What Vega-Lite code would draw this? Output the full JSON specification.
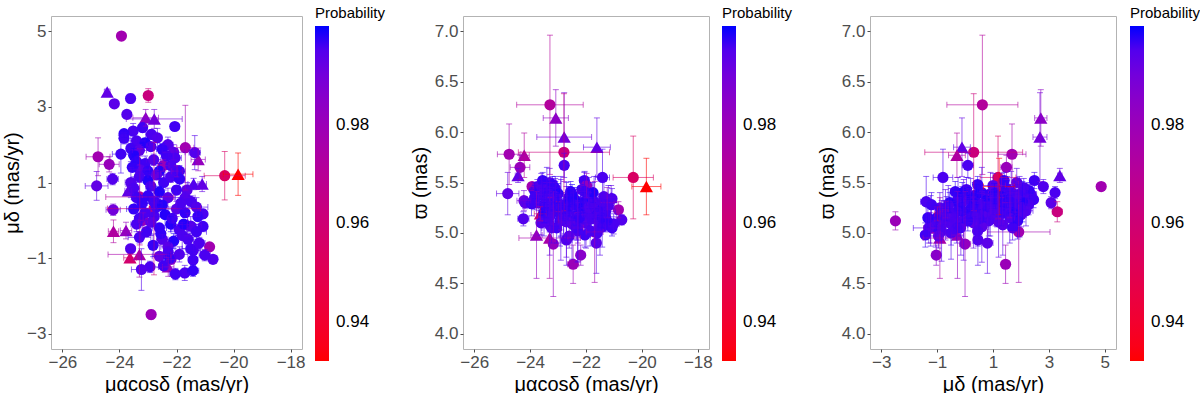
{
  "$schema": "https://vega.github.io/schema/vega-lite/v6.json",
  "background": "white",
  "padding": {"left": 2, "top": 5, "right": 0, "bottom": 0},
  "spacing": 22,
  "config": {
    "font": "Liberation Sans",
    "view": {"stroke": "#b3b3b3", "strokeWidth": 1},
    "axis": {"grid": false, "domain": false, "tickColor": "#4d4d4d", "tickSize": 3, "labelColor": "#4d4d4d", "labelFontSize": 17, "titleFontSize": 20, "titleFontWeight": "normal", "titleColor": "black", "labelPadding": 2, "titlePadding": 4},
    "legend": {"disable": true, "titleFontSize": 15, "titleFontWeight": "normal", "titleColor": "black", "labelFontSize": 17, "labelColor": "black"}
  },
  "data": {"values": [
    {"pmra": -23.93, "pmdec": 4.87, "plx": 5.46, "e_pmra": 0.06, "e_pmdec": 0.06, "e_plx": 0.04, "prob": 0.978, "type": "circle"},
    {"pmra": -22.89, "pmdec": -2.49, "plx": 5.12, "e_pmra": 0.08, "e_pmdec": 0.12, "e_plx": 0.09, "prob": 0.980, "type": "circle"},
    {"pmra": -19.84, "pmdec": 1.22, "plx": 5.46, "e_pmra": 0.52, "e_pmdec": 0.56, "e_plx": 0.28, "prob": 0.932, "type": "triangle"},
    {"pmra": -20.31, "pmdec": 1.18, "plx": 5.55, "e_pmra": 0.72, "e_pmdec": 0.64, "e_plx": 0.41, "prob": 0.955, "type": "circle"},
    {"pmra": -22.99, "pmdec": 3.30, "plx": 5.21, "e_pmra": 0.12, "e_pmdec": 0.18, "e_plx": 0.10, "prob": 0.963, "type": "circle"},
    {"pmra": -24.43, "pmdec": 3.39, "plx": 5.57, "e_pmra": 0.10, "e_pmdec": 0.08, "e_plx": 0.07, "prob": 0.993, "type": "triangle"},
    {"pmra": -23.08, "pmdec": 2.71, "plx": 6.14, "e_pmra": 0.45, "e_pmdec": 0.22, "e_plx": 0.28, "prob": 0.984, "type": "triangle"},
    {"pmra": -22.78, "pmdec": 2.68, "plx": 5.95, "e_pmra": 0.98, "e_pmdec": 0.25, "e_plx": 0.44, "prob": 0.990, "type": "triangle"},
    {"pmra": -21.61, "pmdec": -0.11, "plx": 5.85, "e_pmra": 0.48, "e_pmdec": 0.30, "e_plx": 0.29, "prob": 0.993, "type": "triangle"},
    {"pmra": -24.21, "pmdec": -0.29, "plx": 5.77, "e_pmra": 0.18, "e_pmdec": 0.30, "e_plx": 0.22, "prob": 0.973, "type": "triangle"},
    {"pmra": -23.29, "pmdec": 0.62, "plx": 6.27, "e_pmra": 1.19, "e_pmdec": 1.27, "e_plx": 0.69, "prob": 0.972, "type": "circle"},
    {"pmra": -22.79, "pmdec": 0.31, "plx": 5.80, "e_pmra": 1.63, "e_pmdec": 1.75, "e_plx": 0.58, "prob": 0.962, "type": "circle"},
    {"pmra": -24.75, "pmdec": 1.68, "plx": 5.78, "e_pmra": 0.42, "e_pmdec": 0.50, "e_plx": 0.30, "prob": 0.978, "type": "circle"},
    {"pmra": -24.36, "pmdec": 1.48, "plx": 5.65, "e_pmra": 0.35, "e_pmdec": 0.20, "e_plx": 0.12, "prob": 0.981, "type": "circle"},
    {"pmra": -24.80, "pmdec": 0.91, "plx": 5.39, "e_pmra": 0.40, "e_pmdec": 0.38, "e_plx": 0.21, "prob": 0.993, "type": "circle"},
    {"pmra": -24.24, "pmdec": 1.09, "plx": 5.14, "e_pmra": 0.20, "e_pmdec": 0.15, "e_plx": 0.07, "prob": 0.995, "type": "circle"},
    {"pmra": -24.22, "pmdec": 0.28, "plx": 5.32, "e_pmra": 0.25, "e_pmdec": 0.15, "e_plx": 0.10, "prob": 0.990, "type": "circle"},
    {"pmra": -23.63, "pmdec": -0.99, "plx": 5.19, "e_pmra": 0.22, "e_pmdec": 0.10, "e_plx": 0.07, "prob": 0.958, "type": "triangle"},
    {"pmra": -23.77, "pmdec": -0.27, "plx": 4.98, "e_pmra": 0.20, "e_pmdec": 0.22, "e_plx": 0.43, "prob": 0.982, "type": "triangle"},
    {"pmra": -23.30, "pmdec": -0.90, "plx": 4.95, "e_pmra": 1.10, "e_pmdec": 0.60, "e_plx": 0.40, "prob": 0.976, "type": "triangle"},
    {"pmra": -23.69, "pmdec": 0.78, "plx": 5.30, "e_pmra": 0.12, "e_pmdec": 0.12, "e_plx": 0.08, "prob": 0.993, "type": "triangle"},
    {"pmra": -21.24, "pmdec": 1.61, "plx": 5.30, "e_pmra": 0.25, "e_pmdec": 0.30, "e_plx": 0.15, "prob": 0.982, "type": "triangle"},
    {"pmra": -21.40, "pmdec": 0.96, "plx": 5.25, "e_pmra": 0.20, "e_pmdec": 0.15, "e_plx": 0.10, "prob": 0.995, "type": "triangle"},
    {"pmra": -21.10, "pmdec": 0.96, "plx": 5.35, "e_pmra": 0.15, "e_pmdec": 0.20, "e_plx": 0.12, "prob": 0.993, "type": "triangle"},
    {"pmra": -22.29, "pmdec": -1.23, "plx": 5.05, "e_pmra": 0.20, "e_pmdec": 0.25, "e_plx": 0.15, "prob": 0.983, "type": "triangle"},
    {"pmra": -22.46, "pmdec": 1.45, "plx": 4.69, "e_pmra": 0.20, "e_pmdec": 0.15, "e_plx": 0.19, "prob": 0.980, "type": "circle"},
    {"pmra": -22.19, "pmdec": -1.03, "plx": 4.78, "e_pmra": 0.15, "e_pmdec": 0.12, "e_plx": 0.10, "prob": 0.985, "type": "circle"},
    {"pmra": -23.17, "pmdec": 0.00, "plx": 4.89, "e_pmra": 0.15, "e_pmdec": 0.20, "e_plx": 0.52, "prob": 0.982, "type": "circle"},
    {"pmra": -21.69, "pmdec": 1.92, "plx": 5.01, "e_pmra": 0.30, "e_pmdec": 1.12, "e_plx": 0.50, "prob": 0.978, "type": "circle"},
    {"pmra": -20.84, "pmdec": -0.70, "plx": 5.23, "e_pmra": 0.10, "e_pmdec": 0.10, "e_plx": 0.08, "prob": 0.978, "type": "circle"},
    {"pmra": -20.72, "pmdec": -1.03, "plx": 5.13, "e_pmra": 0.08, "e_pmdec": 0.08, "e_plx": 0.05, "prob": 0.995, "type": "circle"},
    {"pmra": -21.07, "pmdec": 0.17, "plx": 5.34, "e_pmra": 0.10, "e_pmdec": 0.12, "e_plx": 0.10, "prob": 0.996, "type": "circle"},
    {"pmra": -21.41, "pmdec": -0.79, "plx": 5.55, "e_pmra": 0.25, "e_pmdec": 0.35, "e_plx": 0.28, "prob": 0.996, "type": "circle"},
    {"pmra": -24.18, "pmdec": 3.08, "plx": 5.30, "e_pmra": 0.12, "e_pmdec": 0.10, "e_plx": 0.06, "prob": 0.994, "type": "circle"},
    {"pmra": -23.61, "pmdec": 3.22, "plx": 5.40, "e_pmra": 0.08, "e_pmdec": 0.12, "e_plx": 0.06, "prob": 0.996, "type": "circle"},
    {"pmra": -23.74, "pmdec": 2.80, "plx": 5.46, "e_pmra": 0.10, "e_pmdec": 0.10, "e_plx": 0.07, "prob": 0.995, "type": "circle"},
    {"pmra": -22.06, "pmdec": 2.48, "plx": 5.52, "e_pmra": 0.15, "e_pmdec": 0.10, "e_plx": 0.08, "prob": 0.997, "type": "circle"},
    {"pmra": -23.52, "pmdec": 2.36, "plx": 5.38, "e_pmra": 0.12, "e_pmdec": 0.20, "e_plx": 0.10, "prob": 0.996, "type": "circle"},
    {"pmra": -23.19, "pmdec": 2.45, "plx": 5.33, "e_pmra": 0.15, "e_pmdec": 0.12, "e_plx": 0.08, "prob": 0.997, "type": "circle"},
    {"pmra": -21.07, "pmdec": -0.16, "plx": 5.05, "e_pmra": 0.10, "e_pmdec": 0.10, "e_plx": 0.08, "prob": 0.997, "type": "circle"},
    {"pmra": -21.01, "pmdec": -0.92, "plx": 5.09, "e_pmra": 0.20, "e_pmdec": 0.15, "e_plx": 0.10, "prob": 0.996, "type": "circle"},
    {"pmra": -22.78, "pmdec": 0.10, "plx": 5.67, "e_pmra": 0.15, "e_pmdec": 0.20, "e_plx": 0.12, "prob": 0.996, "type": "circle"},
    {"pmra": -22.70, "pmdec": 0.46, "plx": 4.93, "e_pmra": 0.20, "e_pmdec": 0.15, "e_plx": 0.25, "prob": 0.995, "type": "circle"},
    {"pmra": -21.63, "pmdec": 0.80, "plx": 4.90, "e_pmra": 0.15, "e_pmdec": 0.20, "e_plx": 0.30, "prob": 0.994, "type": "circle"},
    {"pmra": -21.98, "pmdec": 1.30, "plx": 5.47, "e_pmra": 0.20, "e_pmdec": 0.15, "e_plx": 0.12, "prob": 0.982, "type": "circle"},
    {"pmra": -23.84, "pmdec": 2.29, "plx": 5.42, "e_pmra": 0.12, "e_pmdec": 0.10, "e_plx": 0.08, "prob": 0.998, "type": "circle"},
    {"pmra": -23.84, "pmdec": 2.17, "plx": 5.35, "e_pmra": 0.10, "e_pmdec": 0.15, "e_plx": 0.12, "prob": 0.997, "type": "circle"},
    {"pmra": -22.88, "pmdec": 2.27, "plx": 5.28, "e_pmra": 0.20, "e_pmdec": 0.12, "e_plx": 0.10, "prob": 0.996, "type": "circle"},
    {"pmra": -22.67, "pmdec": 2.18, "plx": 5.22, "e_pmra": 0.15, "e_pmdec": 0.25, "e_plx": 0.15, "prob": 0.995, "type": "circle"},
    {"pmra": -23.40, "pmdec": 2.10, "plx": 5.45, "e_pmra": 0.30, "e_pmdec": 0.10, "e_plx": 0.09, "prob": 0.996, "type": "circle"},
    {"pmra": -23.10, "pmdec": 2.05, "plx": 5.31, "e_pmra": 0.12, "e_pmdec": 0.12, "e_plx": 0.20, "prob": 0.999, "type": "circle"},
    {"pmra": -22.30, "pmdec": 2.00, "plx": 5.18, "e_pmra": 0.18, "e_pmdec": 0.20, "e_plx": 0.12, "prob": 0.995, "type": "circle"},
    {"pmra": -23.60, "pmdec": 1.90, "plx": 5.38, "e_pmra": 0.10, "e_pmdec": 0.35, "e_plx": 0.10, "prob": 0.997, "type": "circle"},
    {"pmra": -23.30, "pmdec": 1.85, "plx": 5.50, "e_pmra": 0.25, "e_pmdec": 0.15, "e_plx": 0.14, "prob": 0.994, "type": "circle"},
    {"pmra": -22.90, "pmdec": 1.95, "plx": 5.26, "e_pmra": 0.15, "e_pmdec": 0.10, "e_plx": 0.30, "prob": 0.996, "type": "circle"},
    {"pmra": -22.50, "pmdec": 1.88, "plx": 5.12, "e_pmra": 0.20, "e_pmdec": 0.15, "e_plx": 0.18, "prob": 0.998, "type": "circle"},
    {"pmra": -22.10, "pmdec": 1.80, "plx": 5.30, "e_pmra": 0.40, "e_pmdec": 0.20, "e_plx": 0.10, "prob": 0.993, "type": "circle"},
    {"pmra": -21.36, "pmdec": 1.79, "plx": 5.36, "e_pmra": 0.20, "e_pmdec": 0.45, "e_plx": 0.15, "prob": 0.995, "type": "circle"},
    {"pmra": -23.95, "pmdec": 1.75, "plx": 5.29, "e_pmra": 0.30, "e_pmdec": 0.50, "e_plx": 0.12, "prob": 0.997, "type": "circle"},
    {"pmra": -23.50, "pmdec": 1.72, "plx": 5.20, "e_pmra": 0.12, "e_pmdec": 0.18, "e_plx": 0.10, "prob": 0.999, "type": "circle"},
    {"pmra": -22.05, "pmdec": 1.65, "plx": 5.41, "e_pmra": 0.22, "e_pmdec": 0.25, "e_plx": 0.20, "prob": 0.996, "type": "circle"},
    {"pmra": -23.40, "pmdec": 1.55, "plx": 5.33, "e_pmra": 0.15, "e_pmdec": 0.12, "e_plx": 0.08, "prob": 0.998, "type": "circle"},
    {"pmra": -23.10, "pmdec": 1.50, "plx": 5.44, "e_pmra": 0.10, "e_pmdec": 0.20, "e_plx": 0.12, "prob": 0.997, "type": "circle"},
    {"pmra": -22.80, "pmdec": 1.60, "plx": 5.15, "e_pmra": 0.25, "e_pmdec": 0.15, "e_plx": 0.25, "prob": 0.995, "type": "circle"},
    {"pmra": -22.20, "pmdec": 1.45, "plx": 5.24, "e_pmra": 0.15, "e_pmdec": 0.30, "e_plx": 0.15, "prob": 0.996, "type": "circle"},
    {"pmra": -23.30, "pmdec": 1.35, "plx": 5.08, "e_pmra": 0.35, "e_pmdec": 0.10, "e_plx": 0.30, "prob": 0.994, "type": "circle"},
    {"pmra": -22.60, "pmdec": 1.30, "plx": 5.36, "e_pmra": 0.12, "e_pmdec": 0.20, "e_plx": 0.10, "prob": 0.999, "type": "circle"},
    {"pmra": -21.90, "pmdec": 1.30, "plx": 5.19, "e_pmra": 0.20, "e_pmdec": 0.15, "e_plx": 0.12, "prob": 0.997, "type": "circle"},
    {"pmra": -23.00, "pmdec": 1.30, "plx": 5.27, "e_pmra": 0.10, "e_pmdec": 0.12, "e_plx": 0.10, "prob": 0.998, "type": "circle"},
    {"pmra": -23.60, "pmdec": 1.00, "plx": 5.47, "e_pmra": 0.20, "e_pmdec": 0.40, "e_plx": 0.12, "prob": 0.995, "type": "circle"},
    {"pmra": -23.30, "pmdec": 1.15, "plx": 5.25, "e_pmra": 0.15, "e_pmdec": 0.15, "e_plx": 0.18, "prob": 0.996, "type": "circle"},
    {"pmra": -23.00, "pmdec": 1.05, "plx": 5.39, "e_pmra": 0.12, "e_pmdec": 0.25, "e_plx": 0.10, "prob": 0.999, "type": "circle"},
    {"pmra": -22.70, "pmdec": 1.20, "plx": 5.11, "e_pmra": 0.30, "e_pmdec": 0.12, "e_plx": 0.35, "prob": 0.993, "type": "circle"},
    {"pmra": -22.45, "pmdec": 1.00, "plx": 5.30, "e_pmra": 0.15, "e_pmdec": 0.20, "e_plx": 0.12, "prob": 0.997, "type": "circle"},
    {"pmra": -22.20, "pmdec": 1.15, "plx": 5.21, "e_pmra": 0.25, "e_pmdec": 0.15, "e_plx": 0.15, "prob": 0.996, "type": "circle"},
    {"pmra": -21.89, "pmdec": 1.09, "plx": 5.34, "e_pmra": 0.18, "e_pmdec": 0.30, "e_plx": 0.10, "prob": 0.998, "type": "circle"},
    {"pmra": -22.90, "pmdec": 0.90, "plx": 5.17, "e_pmra": 0.12, "e_pmdec": 0.10, "e_plx": 0.20, "prob": 0.995, "type": "circle"},
    {"pmra": -23.50, "pmdec": 0.85, "plx": 5.12, "e_pmra": 0.20, "e_pmdec": 0.30, "e_plx": 0.15, "prob": 0.996, "type": "circle"},
    {"pmra": -23.40, "pmdec": 0.60, "plx": 5.40, "e_pmra": 0.15, "e_pmdec": 0.15, "e_plx": 0.25, "prob": 0.997, "type": "circle"},
    {"pmra": -23.00, "pmdec": 0.65, "plx": 5.23, "e_pmra": 0.30, "e_pmdec": 0.20, "e_plx": 0.12, "prob": 0.998, "type": "circle"},
    {"pmra": -22.60, "pmdec": 0.75, "plx": 5.32, "e_pmra": 0.12, "e_pmdec": 0.15, "e_plx": 0.10, "prob": 0.999, "type": "circle"},
    {"pmra": -22.30, "pmdec": 0.60, "plx": 5.06, "e_pmra": 0.25, "e_pmdec": 0.25, "e_plx": 0.35, "prob": 0.994, "type": "circle"},
    {"pmra": -22.00, "pmdec": 0.80, "plx": 5.27, "e_pmra": 0.10, "e_pmdec": 0.12, "e_plx": 0.12, "prob": 0.997, "type": "circle"},
    {"pmra": -21.70, "pmdec": 0.60, "plx": 5.18, "e_pmra": 0.35, "e_pmdec": 0.30, "e_plx": 0.15, "prob": 0.995, "type": "circle"},
    {"pmra": -21.50, "pmdec": 0.50, "plx": 5.29, "e_pmra": 0.20, "e_pmdec": 0.15, "e_plx": 0.10, "prob": 0.996, "type": "circle"},
    {"pmra": -22.80, "pmdec": 0.50, "plx": 5.14, "e_pmra": 0.15, "e_pmdec": 0.40, "e_plx": 0.20, "prob": 0.997, "type": "circle"},
    {"pmra": -23.50, "pmdec": 0.30, "plx": 5.28, "e_pmra": 0.25, "e_pmdec": 0.12, "e_plx": 0.12, "prob": 0.998, "type": "circle"},
    {"pmra": -23.10, "pmdec": 0.20, "plx": 5.36, "e_pmra": 0.12, "e_pmdec": 0.20, "e_plx": 0.18, "prob": 0.996, "type": "circle"},
    {"pmra": -22.70, "pmdec": 0.35, "plx": 5.20, "e_pmra": 0.20, "e_pmdec": 0.15, "e_plx": 0.30, "prob": 0.997, "type": "circle"},
    {"pmra": -22.40, "pmdec": 0.15, "plx": 5.33, "e_pmra": 0.15, "e_pmdec": 0.30, "e_plx": 0.12, "prob": 0.999, "type": "circle"},
    {"pmra": -22.00, "pmdec": 0.30, "plx": 5.10, "e_pmra": 0.30, "e_pmdec": 0.20, "e_plx": 0.25, "prob": 0.994, "type": "circle"},
    {"pmra": -21.70, "pmdec": 0.20, "plx": 5.24, "e_pmra": 0.12, "e_pmdec": 0.12, "e_plx": 0.10, "prob": 0.998, "type": "circle"},
    {"pmra": -21.30, "pmdec": 0.35, "plx": 5.16, "e_pmra": 0.40, "e_pmdec": 0.25, "e_plx": 0.15, "prob": 0.995, "type": "circle"},
    {"pmra": -23.30, "pmdec": 0.05, "plx": 5.19, "e_pmra": 0.15, "e_pmdec": 0.15, "e_plx": 0.12, "prob": 0.997, "type": "circle"},
    {"pmra": -23.40, "pmdec": -0.10, "plx": 5.31, "e_pmra": 0.20, "e_pmdec": 0.20, "e_plx": 0.15, "prob": 0.996, "type": "circle"},
    {"pmra": -22.90, "pmdec": -0.05, "plx": 5.13, "e_pmra": 0.12, "e_pmdec": 0.35, "e_plx": 0.40, "prob": 0.994, "type": "circle"},
    {"pmra": -22.60, "pmdec": -0.20, "plx": 5.27, "e_pmra": 0.25, "e_pmdec": 0.12, "e_plx": 0.10, "prob": 0.998, "type": "circle"},
    {"pmra": -22.20, "pmdec": -0.10, "plx": 5.22, "e_pmra": 0.15, "e_pmdec": 0.20, "e_plx": 0.12, "prob": 0.999, "type": "circle"},
    {"pmra": -21.90, "pmdec": -0.25, "plx": 5.35, "e_pmra": 0.30, "e_pmdec": 0.15, "e_plx": 0.20, "prob": 0.996, "type": "circle"},
    {"pmra": -21.50, "pmdec": -0.15, "plx": 5.08, "e_pmra": 0.15, "e_pmdec": 0.25, "e_plx": 0.30, "prob": 0.995, "type": "circle"},
    {"pmra": -21.30, "pmdec": -0.30, "plx": 5.21, "e_pmra": 0.35, "e_pmdec": 0.20, "e_plx": 0.12, "prob": 0.997, "type": "circle"},
    {"pmra": -23.30, "pmdec": -0.45, "plx": 5.16, "e_pmra": 0.40, "e_pmdec": 0.15, "e_plx": 0.15, "prob": 0.996, "type": "circle"},
    {"pmra": -22.82, "pmdec": -0.66, "plx": 5.24, "e_pmra": 0.15, "e_pmdec": 0.30, "e_plx": 0.12, "prob": 0.998, "type": "circle"},
    {"pmra": -22.50, "pmdec": -0.50, "plx": 5.09, "e_pmra": 0.20, "e_pmdec": 0.12, "e_plx": 0.35, "prob": 0.995, "type": "circle"},
    {"pmra": -22.10, "pmdec": -0.55, "plx": 5.30, "e_pmra": 0.12, "e_pmdec": 0.20, "e_plx": 0.10, "prob": 0.999, "type": "circle"},
    {"pmra": -21.80, "pmdec": -0.40, "plx": 5.14, "e_pmra": 0.25, "e_pmdec": 0.35, "e_plx": 0.15, "prob": 0.996, "type": "circle"},
    {"pmra": -21.50, "pmdec": -0.75, "plx": 5.20, "e_pmra": 0.30, "e_pmdec": 0.25, "e_plx": 0.12, "prob": 0.997, "type": "circle"},
    {"pmra": -21.20, "pmdec": -0.60, "plx": 5.27, "e_pmra": 0.20, "e_pmdec": 0.15, "e_plx": 0.20, "prob": 0.996, "type": "circle"},
    {"pmra": -23.61, "pmdec": -0.75, "plx": 5.10, "e_pmra": 0.15, "e_pmdec": 0.12, "e_plx": 0.12, "prob": 0.995, "type": "circle"},
    {"pmra": -22.30, "pmdec": -0.70, "plx": 5.18, "e_pmra": 0.25, "e_pmdec": 0.20, "e_plx": 0.25, "prob": 0.994, "type": "circle"},
    {"pmra": -22.29, "pmdec": -0.84, "plx": 5.02, "e_pmra": 0.15, "e_pmdec": 0.15, "e_plx": 0.30, "prob": 0.996, "type": "circle"},
    {"pmra": -22.24, "pmdec": -1.01, "plx": 5.15, "e_pmra": 0.20, "e_pmdec": 0.12, "e_plx": 0.12, "prob": 0.998, "type": "circle"},
    {"pmra": -21.90, "pmdec": -0.90, "plx": 5.25, "e_pmra": 0.30, "e_pmdec": 0.20, "e_plx": 0.15, "prob": 0.995, "type": "circle"},
    {"pmra": -21.42, "pmdec": -1.05, "plx": 5.06, "e_pmra": 0.15, "e_pmdec": 0.15, "e_plx": 0.20, "prob": 0.997, "type": "circle"},
    {"pmra": -22.60, "pmdec": -0.95, "plx": 4.97, "e_pmra": 0.25, "e_pmdec": 0.30, "e_plx": 0.12, "prob": 0.993, "type": "circle"},
    {"pmra": -22.93, "pmdec": -1.23, "plx": 5.12, "e_pmra": 0.30, "e_pmdec": 0.15, "e_plx": 0.25, "prob": 0.996, "type": "circle"},
    {"pmra": -23.23, "pmdec": -1.30, "plx": 5.05, "e_pmra": 0.35, "e_pmdec": 0.55, "e_plx": 0.15, "prob": 0.995, "type": "circle"},
    {"pmra": -22.04, "pmdec": -1.42, "plx": 4.98, "e_pmra": 0.20, "e_pmdec": 0.15, "e_plx": 0.12, "prob": 0.997, "type": "circle"},
    {"pmra": -21.71, "pmdec": -1.39, "plx": 5.31, "e_pmra": 0.15, "e_pmdec": 0.20, "e_plx": 0.25, "prob": 0.996, "type": "circle"},
    {"pmra": -21.42, "pmdec": -1.33, "plx": 5.15, "e_pmra": 0.20, "e_pmdec": 0.15, "e_plx": 0.10, "prob": 0.998, "type": "circle"},
    {"pmra": -23.20, "pmdec": 0.45, "plx": 5.48, "e_pmra": 0.10, "e_pmdec": 0.10, "e_plx": 0.08, "prob": 0.998, "type": "circle"},
    {"pmra": -22.50, "pmdec": 0.40, "plx": 5.38, "e_pmra": 0.12, "e_pmdec": 0.12, "e_plx": 0.10, "prob": 0.999, "type": "circle"},
    {"pmra": -22.15, "pmdec": 0.05, "plx": 5.43, "e_pmra": 0.15, "e_pmdec": 0.10, "e_plx": 0.12, "prob": 0.997, "type": "circle"},
    {"pmra": -21.85, "pmdec": 0.45, "plx": 5.02, "e_pmra": 0.10, "e_pmdec": 0.15, "e_plx": 0.15, "prob": 0.996, "type": "circle"},
    {"pmra": -22.55, "pmdec": -0.35, "plx": 5.41, "e_pmra": 0.12, "e_pmdec": 0.12, "e_plx": 0.10, "prob": 0.998, "type": "circle"},
    {"pmra": -23.05, "pmdec": -0.30, "plx": 5.05, "e_pmra": 0.15, "e_pmdec": 0.10, "e_plx": 0.15, "prob": 0.997, "type": "circle"},
    {"pmra": -21.60, "pmdec": -0.50, "plx": 5.00, "e_pmra": 0.12, "e_pmdec": 0.15, "e_plx": 0.12, "prob": 0.996, "type": "circle"},
    {"pmra": -23.55, "pmdec": 1.40, "plx": 5.52, "e_pmra": 0.10, "e_pmdec": 0.10, "e_plx": 0.08, "prob": 0.998, "type": "circle"},
    {"pmra": -22.35, "pmdec": 1.70, "plx": 5.05, "e_pmra": 0.15, "e_pmdec": 0.12, "e_plx": 0.12, "prob": 0.997, "type": "circle"},
    {"pmra": -21.75, "pmdec": -0.10, "plx": 5.40, "e_pmra": 0.12, "e_pmdec": 0.10, "e_plx": 0.10, "prob": 0.999, "type": "circle"},
    {"pmra": -22.45, "pmdec": -1.20, "plx": 5.28, "e_pmra": 0.15, "e_pmdec": 0.12, "e_plx": 0.12, "prob": 0.997, "type": "circle"},
    {"pmra": -21.25, "pmdec": 0.10, "plx": 5.12, "e_pmra": 0.12, "e_pmdec": 0.12, "e_plx": 0.10, "prob": 0.998, "type": "circle"}
  ]},
  "resolve": {"scale": {"color": "independent", "fill": "independent"}, "legend": {"color": "independent", "fill": "independent"}},
  "hconcat": [
    {
      "width": 251, "height": 333,
      "encoding": {
        "x": {"field": "pmra", "type": "quantitative", "title": "μαcosδ (mas/yr)", "scale": {"domain": [-26.4, -17.6], "nice": false, "zero": false}, "axis": {"values": [-26, -24, -22, -20, -18]}},
        "y": {"field": "pmdec", "type": "quantitative", "title": "μδ (mas/yr)", "scale": {"domain": [-3.4, 5.4], "nice": false, "zero": false}, "axis": {"values": [-3, -1, 1, 3, 5]}}
      },
      "layer": [
        {
          "mark": {"type": "point", "filled": true, "opacity": 1, "strokeWidth": 0},
          "encoding": {
            "fill": {"field": "prob", "type": "quantitative", "scale": {"domain": [0.932, 1.0], "range": ["#ff0000", "#0000ff"], "interpolate": "lab", "nice": false, "zero": false}, "legend": {"type": "gradient", "title": "Probability", "orient": "none", "legendX": 264, "legendY": -10, "direction": "vertical", "gradientLength": 335, "gradientThickness": 14, "gradientStrokeWidth": 0, "values": [0.94, 0.96, 0.98], "format": ".2f", "titlePadding": 5, "labelOffset": 7}},
            "shape": {"field": "type", "type": "nominal", "scale": {"domain": ["circle", "triangle"], "range": ["circle", "triangle-up"]}, "legend": null},
            "size": {"field": "type", "type": "ordinal", "scale": {"domain": ["circle", "triangle"], "range": [125, 175]}, "legend": null}
          }
        },
        {
          "mark": {"type": "errorbar", "ticks": {"size": 6, "opacity": 0.6}, "rule": {"opacity": 0.6}, "thickness": 1},
          "encoding": {
            "xError": {"field": "e_pmra"},
            "color": {"field": "prob", "type": "quantitative", "scale": {"domain": [0.9319, 1.0001], "range": ["#ff0000", "#0000ff"], "interpolate": "lab", "nice": false, "zero": false}, "legend": null}
          }
        },
        {
          "mark": {"type": "errorbar", "ticks": {"size": 6, "opacity": 0.6}, "rule": {"opacity": 0.6}, "thickness": 1},
          "encoding": {
            "yError": {"field": "e_pmdec"},
            "color": {"field": "prob", "type": "quantitative", "scale": {"domain": [0.9319, 1.0001], "range": ["#ff0000", "#0000ff"], "interpolate": "lab", "nice": false, "zero": false}, "legend": null}
          }
        }
      ]
    },
    {
      "width": 246, "height": 333,
      "encoding": {
        "x": {"field": "pmra", "type": "quantitative", "title": "μαcosδ (mas/yr)", "scale": {"domain": [-26.4, -17.6], "nice": false, "zero": false}, "axis": {"values": [-26, -24, -22, -20, -18]}},
        "y": {"field": "plx", "type": "quantitative", "title": "ϖ (mas)", "scale": {"domain": [3.85, 7.15], "nice": false, "zero": false}, "axis": {"values": [4.0, 4.5, 5.0, 5.5, 6.0, 6.5, 7.0], "format": ".1f"}}
      },
      "layer": [
        {
          "mark": {"type": "point", "filled": true, "opacity": 1, "strokeWidth": 0},
          "encoding": {
            "fill": {"field": "prob", "type": "quantitative", "scale": {"domain": [0.932, 1.0], "range": ["#ff0000", "#0000ff"], "interpolate": "lab", "nice": false, "zero": false}, "legend": {"type": "gradient", "title": "Probability", "orient": "none", "legendX": 259, "legendY": -10, "direction": "vertical", "gradientLength": 335, "gradientThickness": 14, "gradientStrokeWidth": 0, "values": [0.94, 0.96, 0.98], "format": ".2f", "titlePadding": 5, "labelOffset": 7}},
            "shape": {"field": "type", "type": "nominal", "scale": {"domain": ["circle", "triangle"], "range": ["circle", "triangle-up"]}, "legend": null},
            "size": {"field": "type", "type": "ordinal", "scale": {"domain": ["circle", "triangle"], "range": [125, 175]}, "legend": null}
          }
        },
        {
          "mark": {"type": "errorbar", "ticks": {"size": 6, "opacity": 0.6}, "rule": {"opacity": 0.6}, "thickness": 1},
          "encoding": {
            "xError": {"field": "e_pmra"},
            "color": {"field": "prob", "type": "quantitative", "scale": {"domain": [0.9319, 1.0001], "range": ["#ff0000", "#0000ff"], "interpolate": "lab", "nice": false, "zero": false}, "legend": null}
          }
        },
        {
          "mark": {"type": "errorbar", "ticks": {"size": 6, "opacity": 0.6}, "rule": {"opacity": 0.6}, "thickness": 1},
          "encoding": {
            "yError": {"field": "e_plx"},
            "color": {"field": "prob", "type": "quantitative", "scale": {"domain": [0.9319, 1.0001], "range": ["#ff0000", "#0000ff"], "interpolate": "lab", "nice": false, "zero": false}, "legend": null}
          }
        }
      ]
    },
    {
      "width": 246, "height": 333,
      "encoding": {
        "x": {"field": "pmdec", "type": "quantitative", "title": "μδ (mas/yr)", "scale": {"domain": [-3.4, 5.4], "nice": false, "zero": false}, "axis": {"values": [-3, -1, 1, 3, 5]}},
        "y": {"field": "plx", "type": "quantitative", "title": "ϖ (mas)", "scale": {"domain": [3.85, 7.15], "nice": false, "zero": false}, "axis": {"values": [4.0, 4.5, 5.0, 5.5, 6.0, 6.5, 7.0], "format": ".1f"}}
      },
      "layer": [
        {
          "mark": {"type": "point", "filled": true, "opacity": 1, "strokeWidth": 0},
          "encoding": {
            "fill": {"field": "prob", "type": "quantitative", "scale": {"domain": [0.932, 1.0], "range": ["#ff0000", "#0000ff"], "interpolate": "lab", "nice": false, "zero": false}, "legend": {"type": "gradient", "title": "Probability", "orient": "none", "legendX": 260, "legendY": -10, "direction": "vertical", "gradientLength": 335, "gradientThickness": 14, "gradientStrokeWidth": 0, "values": [0.94, 0.96, 0.98], "format": ".2f", "titlePadding": 5, "labelOffset": 7}},
            "shape": {"field": "type", "type": "nominal", "scale": {"domain": ["circle", "triangle"], "range": ["circle", "triangle-up"]}, "legend": null},
            "size": {"field": "type", "type": "ordinal", "scale": {"domain": ["circle", "triangle"], "range": [125, 175]}, "legend": null}
          }
        },
        {
          "mark": {"type": "errorbar", "ticks": {"size": 6, "opacity": 0.6}, "rule": {"opacity": 0.6}, "thickness": 1},
          "encoding": {
            "xError": {"field": "e_pmdec"},
            "color": {"field": "prob", "type": "quantitative", "scale": {"domain": [0.9319, 1.0001], "range": ["#ff0000", "#0000ff"], "interpolate": "lab", "nice": false, "zero": false}, "legend": null}
          }
        },
        {
          "mark": {"type": "errorbar", "ticks": {"size": 6, "opacity": 0.6}, "rule": {"opacity": 0.6}, "thickness": 1},
          "encoding": {
            "yError": {"field": "e_plx"},
            "color": {"field": "prob", "type": "quantitative", "scale": {"domain": [0.9319, 1.0001], "range": ["#ff0000", "#0000ff"], "interpolate": "lab", "nice": false, "zero": false}, "legend": null}
          }
        }
      ]
    }
  ]
}
